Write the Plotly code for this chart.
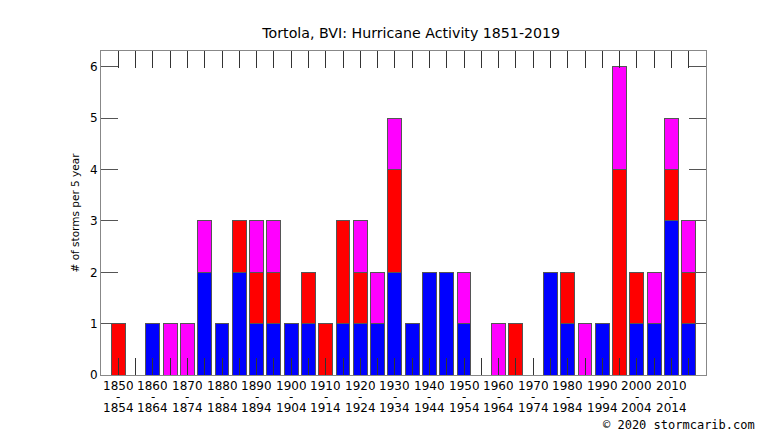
import plotly.graph_objects as go

# 5-year periods 1850-1854 ... 2015-2019
periods = list(range(1850, 2020, 5))

# storm counts per period, stacked blue / red / magenta
blue = [0, 0, 1, 0, 0, 2, 1, 2, 1, 1, 1, 1, 0, 1, 1, 1, 2,
        1, 2, 2, 1, 0, 0, 0, 0, 2, 1, 0, 1, 0, 1, 1, 3, 1]
red = [1, 0, 0, 0, 0, 0, 0, 1, 1, 1, 0, 1, 1, 2, 1, 0, 2,
       0, 0, 0, 0, 0, 0, 1, 0, 0, 1, 0, 0, 4, 1, 0, 1, 1]
magenta = [0, 0, 0, 1, 1, 1, 0, 0, 1, 1, 0, 0, 0, 0, 1, 1, 1,
           0, 0, 0, 1, 0, 1, 0, 0, 0, 0, 1, 0, 2, 0, 1, 1, 1]

# labelled every 10 years
label_periods = periods[::2]

fig = go.Figure()
for vals, col in [(blue, "#0000ff"), (red, "#ff0000"), (magenta, "#ff00ff")]:
    fig.add_trace(go.Bar(
        x=periods, y=vals, width=4,
        marker=dict(color=col, line=dict(color="#555555", width=1)),
        showlegend=False,
    ))

# page body adds ~8px offset, so the figure is drawn a bit smaller
fig.update_layout(
    barmode="stack",
    width=758, height=423,
    margin=dict(l=93, r=60, t=43, b=56, autoexpand=False),
    plot_bgcolor="white", paper_bgcolor="white",
    font=dict(family="DejaVu Sans", size=12, color="black"),
    title=dict(text="Tortola, BVI: Hurricane Activity 1851-2019",
               x=0.532, xanchor="center", y=0.940, yanchor="middle",
               font=dict(size=14.2)),
    xaxis=dict(range=[1845, 2020], tickvals=periods, showticklabels=False,
               ticks="inside", ticklen=17, tickcolor="#333333", tickwidth=1,
               showline=True, linecolor="#888888", mirror="ticks",
               showgrid=False, zeroline=False, automargin=False),
    yaxis=dict(range=[0, 6.31], tickvals=[0, 1, 2, 3, 4, 5, 6],
               ticks="inside", ticklen=17, tickcolor="#555555", tickwidth=1,
               showline=True, linecolor="#888888", mirror="ticks",
               showgrid=False, zeroline=False, automargin=False,
               title=dict(text="# of storms per 5 year", standoff=8,
                          font=dict(size=10.5))),
)

# three-line period labels (tight line spacing like the original)
for p in label_periods:
    for txt, yy in [(str(p), -0.031), ("-", -0.0655), (str(p + 4), -0.1)]:
        fig.add_annotation(text=txt, x=p, xref="x", y=yy, yref="paper",
                           xanchor="center", yanchor="middle", showarrow=False,
                           height=11, borderpad=0, font=dict(size=12))

fig.add_annotation(text="© 2020 stormcarib.com", xref="paper", yref="paper",
                   x=1.084, y=-0.154, xanchor="right", yanchor="middle", showarrow=False,
                   font=dict(family="DejaVu Sans Mono", size=12))

fig.write_html("out.html")
